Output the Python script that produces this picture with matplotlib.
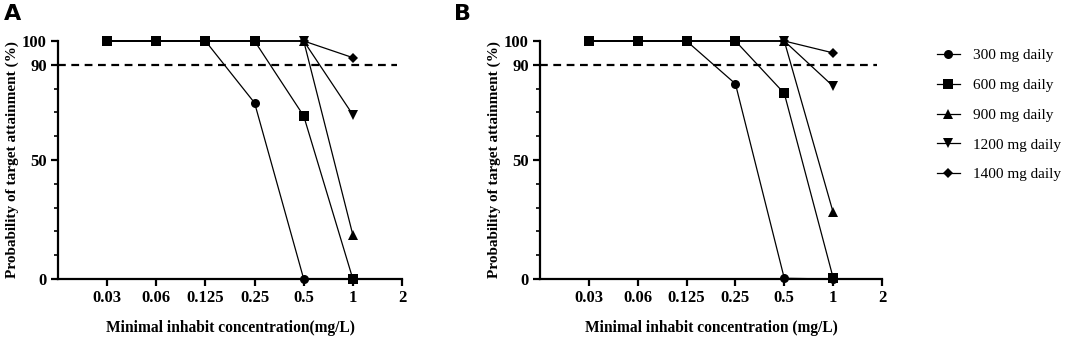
import numpy as np
import matplotlib
matplotlib.use("Agg")
import matplotlib.pyplot as plt
from matplotlib.ticker import MultipleLocator

mic_labels = ["0.03", "0.06", "0.125", "0.25", "0.5", "1", "2"]
doses = ["300 mg daily", "600 mg daily", "900 mg daily", "1200 mg daily", "1400 mg daily"]
markers = ["o", "s", "^", "v", "D"]
msizes = [6.5, 6.5, 6.5, 6.5, 5]

# PTA (%) at MIC 0.03 .. 1 mg/L
pta_a = {
    "300 mg daily":  [100, 100, 100, 74, 0, 0],
    "600 mg daily":  [100, 100, 100, 100, 68.5, 0],
    "900 mg daily":  [100, 100, 100, 100, 100, 18.5],
    "1200 mg daily": [100, 100, 100, 100, 100, 69],
    "1400 mg daily": [100, 100, 100, 100, 100, 93],
}
pta_b = {
    "300 mg daily":  [100, 100, 100, 82, 0.3, 0],
    "600 mg daily":  [100, 100, 100, 100, 78, 0.5],
    "900 mg daily":  [100, 100, 100, 100, 100, 28],
    "1200 mg daily": [100, 100, 100, 100, 100, 81],
    "1400 mg daily": [100, 100, 100, 100, 100, 95],
}
target = 90

plt.rcParams["font.family"] = ["Liberation Serif", "DejaVu Serif"]

fig = plt.figure(figsize=(10.65, 3.38), dpi=100)
ax_a = fig.add_axes([58 / 1065, 1 - 279 / 338, 344 / 1065, 238 / 338])
ax_b = fig.add_axes([540 / 1065, 1 - 279 / 338, 342 / 1065, 238 / 338])


def draw(ax, data, xlabel):
    x = np.arange(1, 7)
    # draw larger doses first so the 300/600 markers sit on top
    for dose, m, ms in list(zip(doses, markers, msizes))[::-1]:
        ax.plot(x, data[dose], color="black", lw=0.9, marker=m, ms=ms,
                markeredgewidth=0, label=dose, clip_on=False, zorder=3)
    ax.axhline(target, xmin=0, xmax=0.985, color="black", lw=1.6,
               ls=(0, (3.5, 2.5)), zorder=2)
    ax.set_xlim(0, 7)
    ax.set_ylim(0, 100)
    ax.set_xticks(range(1, 8))
    ax.set_xticklabels(mic_labels)
    ax.set_yticks([0, 50, 90, 100])
    ax.yaxis.set_minor_locator(MultipleLocator(10))
    for s in ["top", "right"]:
        ax.spines[s].set_visible(False)
    for s in ["left", "bottom"]:
        ax.spines[s].set_linewidth(1.6)
    ax.tick_params(axis="both", which="major", width=1.6, length=5,
                   labelsize=12, pad=3)
    ax.tick_params(axis="y", which="minor", width=1.2, length=3)
    for lab in ax.get_xticklabels() + ax.get_yticklabels():
        lab.set_fontweight("bold")
    ax.set_xlabel(xlabel, fontsize=11.2, fontweight="bold", labelpad=10)
    ax.set_ylabel("Probability of target attainment (%)", fontsize=11,
                  fontweight="bold", labelpad=2)


draw(ax_a, pta_a, "Minimal inhabit concentration(mg/L)")
draw(ax_b, pta_b, "Minimal inhabit concentration (mg/L)")

fig.text(4 / 1065, 1 - 14 / 338, "A", fontsize=16, fontweight="bold",
         family="DejaVu Sans", va="center")
fig.text(454 / 1065, 1 - 14 / 338, "B", fontsize=16, fontweight="bold",
         family="DejaVu Sans", va="center")

handles, labels = ax_b.get_legend_handles_labels()
fig.legend(handles[::-1], labels[::-1], loc="upper left",
           bbox_to_anchor=(923 / 1065, 1 - 35 / 338), frameon=False,
           fontsize=11, handlelength=1.5, handletextpad=0.85, labelspacing=1.05)

fig.savefig("out.png", dpi=100)
